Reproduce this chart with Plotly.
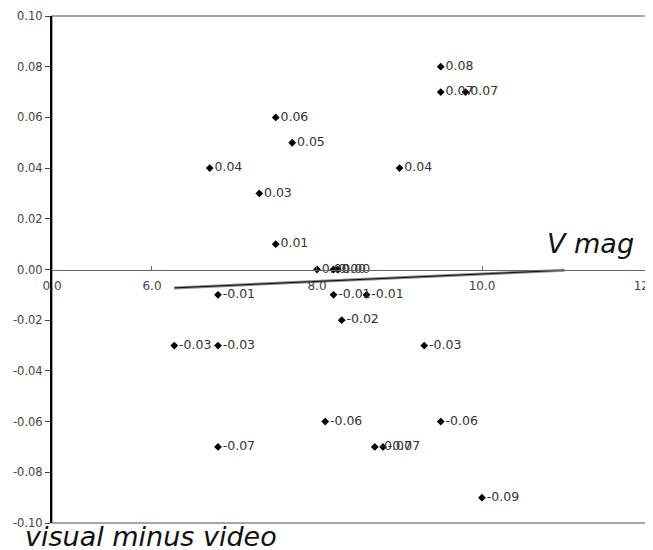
import numpy as np
import plotly.graph_objects as go

# V magnitude (x) and visual-minus-video difference (y)
v_mag = [9.50, 9.50, 9.80, 7.50, 7.70, 6.70, 9.00, 7.30, 7.50,
         8.00, 8.20, 8.25,
         6.80, 8.20, 8.60, 8.30, 6.27, 6.80, 9.30,
         8.10, 9.50, 6.80, 8.70, 8.80, 10.00]
diff = [0.08, 0.07, 0.07, 0.06, 0.05, 0.04, 0.04, 0.03, 0.01,
        0.00, 0.00, 0.00,
        -0.01, -0.01, -0.01, -0.02, -0.03, -0.03, -0.03,
        -0.06, -0.06, -0.07, -0.07, -0.07, -0.09]

y_ticks = [0.10, 0.08, 0.06, 0.04, 0.02, 0.00, -0.02, -0.04, -0.06, -0.08, -0.10]
y_tick_text = ["0.10", "0.08", "0.06", "0.04", "0.02", "0.00",
               "-0.02", "-0.04", "-0.06", "-0.08", "-0.10"]
x_ticks = [6.0, 8.0, 10.0, 12.0]
x_tick_text = ["6.0", "8.0", "10.0", "12.0"]
x_axis_min_label = "0.0"

X_MIN, X_MAX = 4.788, 12.0

labels = [f"{v:.2f}" for v in diff]

# linear trendline (with forward forecast of 1 unit)
slope, intercept = np.polyfit(v_mag, diff, 1)
tx = np.array([min(v_mag), max(v_mag) + 1.0])
ty = slope * tx + intercept

FONT = "DejaVu Sans, Arial, sans-serif"

fig = go.Figure()
fig.add_trace(go.Scatter(x=tx, y=ty, mode="lines",
                         line=dict(color="#8a8a8a", width=3), hoverinfo="skip"))
fig.add_trace(go.Scatter(x=tx, y=ty, mode="lines",
                         line=dict(color="#111111", width=1), hoverinfo="skip"))
fig.add_trace(go.Scatter(
    x=v_mag, y=diff, mode="markers+text",
    marker=dict(symbol="diamond", size=6, color="black"),
    text=labels, textposition="middle right",
    textfont=dict(family=FONT, size=12.5, color="#333333"),
))

fig.update_layout(
    width=645, height=542,
    margin=dict(l=44, r=6, t=8, b=27, autoexpand=False),
    paper_bgcolor="white", plot_bgcolor="white",
    showlegend=False,
    font=dict(family=FONT, color="#333333"),
    xaxis=dict(
        range=[X_MIN, X_MAX],
        tickvals=[X_MIN] + x_ticks,
        ticktext=[x_axis_min_label] + x_tick_text,
        anchor="free", position=0.5,
        showline=True, linecolor="#666666", linewidth=1,
        ticks="inside", ticklen=4, tickcolor="#666666",
        ticklabelstandoff=5, ticklabeloverflow="allow",
        automargin=False,
        showgrid=False, zeroline=False,
        tickfont=dict(size=12, color="#444444"),
    ),
    yaxis=dict(
        range=[-0.10, 0.10],
        tickvals=y_ticks, ticktext=y_tick_text,
        showline=True, linecolor="black", linewidth=2,
        ticks="outside", ticklen=5, tickcolor="#444444",
        automargin=False,
        showgrid=False, zeroline=False,
        tickfont=dict(size=11.5, color="#444444"),
    ),
    shapes=[dict(type="rect", xref="paper", yref="paper", x0=0, y0=0, x1=1, y1=1,
                 line=dict(color="#888888", width=1.5), layer="below")],
    annotations=[
        dict(text="<i>V mag</i>", xref="paper", yref="paper", x=0.982, y=0.552,
             xanchor="right", yanchor="middle", showarrow=False,
             font=dict(size=27, color="#111111", family=FONT)),
        dict(text="<i>visual minus video</i>", xref="paper", yref="paper",
             x=-0.048, y=-0.027, xanchor="left", yanchor="middle", showarrow=False,
             font=dict(size=27, color="#111111", family=FONT)),
    ],
)

fig.write_html("out.html")
